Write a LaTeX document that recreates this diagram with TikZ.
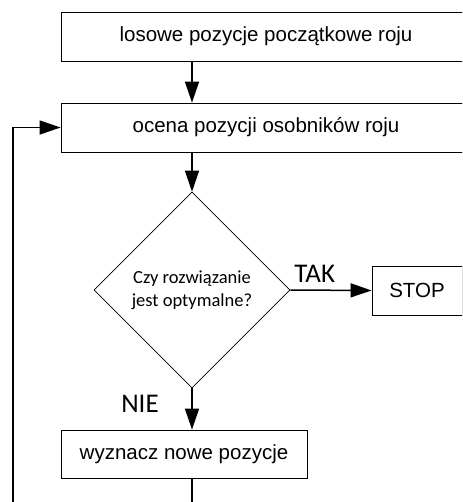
\documentclass[tikz,border=0pt]{standalone}
\usepackage{fontspec}
\setmainfont{Liberation Sans}
\newfontfamily\calibri{Carlito}
\usetikzlibrary{shapes.geometric,arrows.meta}
\tikzset{
  box/.style={draw, line width=0.8pt, inner sep=0pt, font=\fontsize{20.5}{24}\selectfont},
  decision/.style={draw, diamond, aspect=1, line width=0.6pt, inner sep=0pt, minimum size=196pt, align=center, font=\calibri\fontsize{18.5}{23}\selectfont},
  answer/.style={font=\calibri\fontsize{27}{30}\selectfont},
  flow/.style={line width=1.5pt, -{Triangle[length=21pt,width=14pt]}}
}
\begin{document}
\begin{tikzpicture}[x=1pt,y=-1pt]
\useasboundingbox (0,0) rectangle (462,502);
\clip (0,0) rectangle (462,502);
\node[box, minimum width=410pt, minimum height=49pt] (start) at (266,36.5) {losowe pozycje początkowe roju};
\node[box, minimum width=410pt, minimum height=49pt] (eval) at (266,127.5) {ocena pozycji osobników roju};
\node[decision] (dec) at (192,290) {Czy rozwiązanie\\jest optymalne?};
\node[box, minimum width=90pt, minimum height=49pt] (stop) at (417,290.5) {STOP};
\node[box, minimum width=246pt, minimum height=48pt] (upd) at (184,454) {wyznacz nowe pozycje};
\node[answer] (nie) at (140,404) {NIE};
\coordinate (loopend) at (13,506);
\coordinate (outend) at (192,506);
\draw[flow] (start.south -| dec.north) to (eval.north -| dec.north);
\draw[flow] (eval.south -| dec.north) to (dec.north);
\draw[flow] (dec.east) to node [answer, above=4pt, pos=0.3] {TAK} (stop.west);
\draw[flow] (dec.south) to (upd.north -| dec.south);
\draw[line width=1.5pt] (upd.south -| dec.south) to (outend);
\draw[flow] (loopend) |- (eval.west);
\end{tikzpicture}
\end{document}
